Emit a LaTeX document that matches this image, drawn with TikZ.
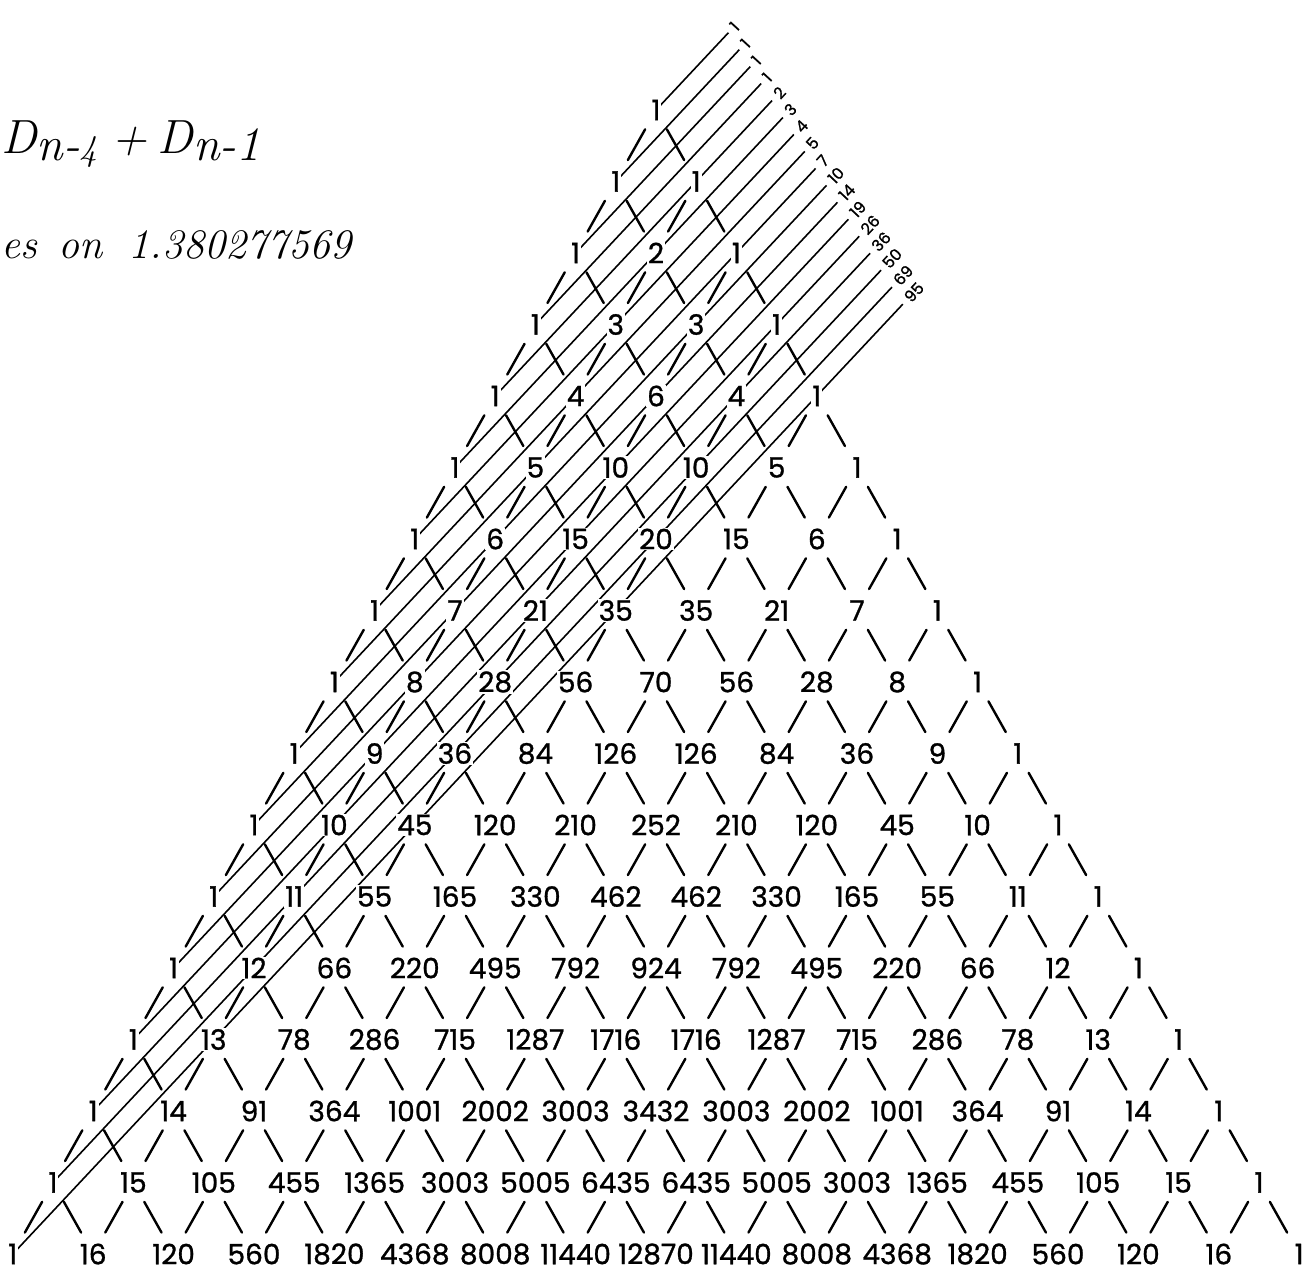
\documentclass[tikz,border=0pt]{standalone}
\usepackage{fontspec}
\usetikzlibrary{calc}
\newfontfamily\numfont{Poppins}[FakeBold=1]
\pgfdeclarelayer{bg}
\pgfsetlayers{bg,main}
\begin{document}
\begin{tikzpicture}[x=1pt,y=-1pt,
  num/.style={font=\numfont\fontsize{28}{28}\selectfont, fill=white, inner sep=1pt},
  conn/.style={line width=2.4pt, line cap=round},
  diag/.style={line width=1.6pt},
  lab/.style={font=\numfont\fontsize{16}{16}\selectfont, rotate=47, anchor=west, inner sep=0pt},
  hand/.style={font=\itshape, anchor=west, inner sep=0pt}]
\useasboundingbox (0,0) rectangle (1314,1274);

% numbers of the triangle
\foreach \r/\vals in {
  0/{1},
  1/{1,1},
  2/{1,2,1},
  3/{1,3,3,1},
  4/{1,4,6,4,1},
  5/{1,5,10,10,5,1},
  6/{1,6,15,20,15,6,1},
  7/{1,7,21,35,35,21,7,1},
  8/{1,8,28,56,70,56,28,8,1},
  9/{1,9,36,84,126,126,84,36,9,1},
  10/{1,10,45,120,210,252,210,120,45,10,1},
  11/{1,11,55,165,330,462,462,330,165,55,11,1},
  12/{1,12,66,220,495,792,924,792,495,220,66,12,1},
  13/{1,13,78,286,715,1287,1716,1716,1287,715,286,78,13,1},
  14/{1,14,91,364,1001,2002,3003,3432,3003,2002,1001,364,91,14,1},
  15/{1,15,105,455,1365,3003,5005,6435,6435,5005,3003,1365,455,105,15,1},
  16/{1,16,120,560,1820,4368,8008,11440,12870,11440,8008,4368,1820,560,120,16,1}}{
  \foreach \v [count=\kk from 0] in \vals {
    \coordinate (p-\r-\kk) at ({656+40.2*(2*\kk-\r)},{110+71.5*\r});
    \node[num] (n-\r-\kk) at (p-\r-\kk) {\v};
  }
}

% shallow diagonals with their sums
\foreach \n/\lab in {0/1,1/1,2/1,3/1,4/2,5/3,6/4,7/5,8/7,9/10,10/14,11/19,12/26,13/36,14/50,15/69,16/95}{
  \pgfmathsetmacro{\sx}{656-40.2*\n}
  \pgfmathsetmacro{\lx}{738+10.9*\n}
  \pgfmathsetmacro{\T}{(\lx-\sx)/0.684}
  \coordinate (e-\n) at ($(p-\n-0)+({(\T-14)*0.684},{-(\T-14)*0.730})$);
  \begin{pgfonlayer}{bg}
    \draw[diag] (p-\n-0) -- (e-\n);
  \end{pgfonlayer}
  \node[lab] (d-\n) at ($(p-\n-0)+({(\T-8)*0.684},{-(\T-8)*0.730})$) {\lab};
}

% connectors
\foreach \r in {0,...,15}{
  \pgfmathtruncatemacro{\rr}{\r+1}
  \foreach \k in {0,...,\r}{
    \pgfmathtruncatemacro{\kk}{\k+1}
    \draw[conn] ($(n-\r-\k)!0.27!(n-\rr-\k)$) -- ($(n-\r-\k)!0.7!(n-\rr-\k)$);
    \draw[conn] ($(n-\r-\k)!0.27!(n-\rr-\kk)$) -- ($(n-\r-\k)!0.7!(n-\rr-\kk)$);
  }
}

% handwritten notes
\node[hand, font=\itshape\fontsize{48}{48}\selectfont] (eq) at (1,144)
  {D\raisebox{-7pt}{n-{\fontsize{36}{36}\selectfont 4}}\hspace{14pt}+\hspace{10pt}D\raisebox{-7pt}{n-1}};
\node[hand, font=\itshape\fontsize{42}{42}\selectfont] (lim) at (1,245)
  {es\hspace{22pt}on\hspace{26pt}{\addfontfeatures{LetterSpace=14}1.380277569}};
\end{tikzpicture}
\end{document}
